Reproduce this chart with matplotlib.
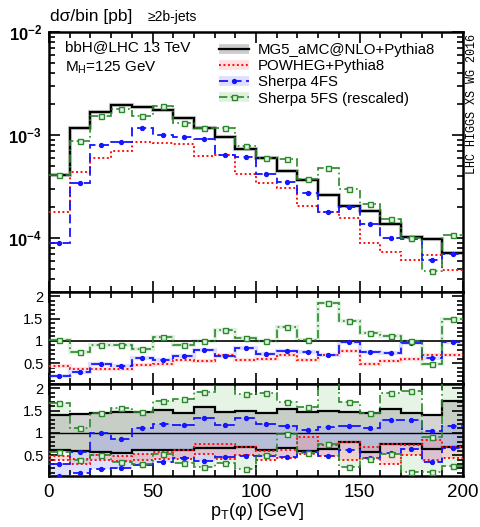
import numpy as np
import matplotlib
matplotlib.use("Agg")
import matplotlib.pyplot as plt
from matplotlib.ticker import MultipleLocator, LogLocator, FuncFormatter, NullFormatter
from matplotlib.lines import Line2D

plt.rcParams["font.family"] = ["Liberation Sans", "DejaVu Sans"]
plt.rcParams["mathtext.fontset"] = "custom"
plt.rcParams["mathtext.rm"] = "Liberation Sans"
plt.rcParams["mathtext.it"] = "Liberation Sans:italic"
plt.rcParams["mathtext.bf"] = "Liberation Sans:bold"

# pT(phi) binning, 10 GeV bins
edges = np.arange(0, 201, 10)
centers = 0.5 * (edges[:-1] + edges[1:])

# d sigma / bin [pb]
mg5 = [4.09e-4, 1.18e-3, 1.68e-3, 1.96e-3, 1.88e-3, 1.75e-3, 1.47e-3, 1.16e-3, 9.5e-4, 7.31e-4,
       5.94e-4, 4.47e-4, 3.63e-4, 2.61e-4, 2.06e-4, 1.83e-4, 1.37e-4, 1.02e-4, 9.85e-5, 7.2e-5]
powheg = [1.81e-4, 4.35e-4, 6.0e-4, 7.07e-4, 8.59e-4, 8.40e-4, 8.27e-4, 6.28e-4, 6.47e-4, 4.16e-4,
          3.46e-4, 3.03e-4, 2.04e-4, 1.80e-4, 1.57e-4, 8.98e-5, 7.40e-5, 6.14e-5, 6.81e-5, 4.87e-5]
sherpa4 = [9.0e-5, 3.44e-4, 7.94e-4, 8.55e-4, 1.177e-3, 9.93e-4, 9.63e-4, 9.2e-4, 6.35e-4, 6.16e-4,
           4.15e-4, 3.47e-4, 2.72e-4, 1.78e-4, 1.99e-4, 1.38e-4, 1.0e-4, 9.78e-5, 6.16e-5, 6.95e-5]
sherpa5 = [4.13e-4, 8.74e-4, 1.52e-3, 1.80e-3, 1.53e-3, 1.91e-3, 1.32e-3, 1.16e-3, 1.18e-3, 7.82e-4,
           5.94e-4, 5.85e-4, 3.74e-4, 4.81e-4, 2.99e-4, 2.15e-4, 1.53e-4, 1.01e-4, 4.78e-5, 1.07e-4]

# uncertainty bands, normalised to the MG5_aMC central value
mg5_up = [1.40, 1.42, 1.45, 1.46, 1.48, 1.51, 1.44, 1.59, 1.48, 1.50,
          1.44, 1.54, 1.46, 1.50, 1.48, 1.44, 1.54, 1.44, 1.41, 1.72]
mg5_dn = [0.61, 0.59, 0.58, 0.54, 0.61, 0.62, 0.62, 0.65, 0.65, 0.69,
          0.62, 0.65, 0.60, 0.63, 0.79, 0.58, 0.76, 0.74, 0.63, 0.68]
powheg_up = [0.47, 0.42, 0.50, 0.48, 0.52, 0.56, 0.62, 0.76, 0.76, 0.68,
             0.60, 0.62, 0.90, 0.72, 0.79, 0.68, 0.76, 0.72, 0.83, 0.68]
powheg_dn = [0.38, 0.30, 0.40, 0.36, 0.40, 0.41, 0.41, 0.52, 0.41, 0.50,
             0.40, 0.43, 0.52, 0.49, 0.40, 0.44, 0.29, 0.50, 0.40, 0.44]
sherpa4_up = [0.30, 0.57, 0.99, 0.87, 1.11, 1.21, 1.18, 1.33, 1.18, 1.33,
              1.20, 1.15, 1.06, 1.13, 1.15, 1.11, 1.28, 1.28, 1.04, 1.15]
sherpa4_dn = [0.02, 0.10, 0.18, 0.21, 0.28, 0.34, 0.43, 0.37, 0.45, 0.47,
              0.47, 0.45, 0.58, 0.48, 0.61, 0.43, 0.55, 0.63, 0.35, 0.67]
sherpa5_up = [1.67, 1.10, 1.44, 1.55, 1.48, 1.72, 1.76, 1.92, 2.30, 1.87,
              1.89, 1.70, 1.59, 2.70, 1.70, 1.45, 1.90, 1.94, 0.90, 2.30]
sherpa5_dn = [0.56, 0.38, 0.50, 0.35, 0.29, 0.53, 0.33, 0.24, 0.33, 0.18,
              0.51, 0.98, 0.55, 0.74, 0.23, 0.42, 0.53, 0.13, 0.12, 0.26]

labels = ["MG5_aMC@NLO+Pythia8", "POWHEG+Pythia8", "Sherpa 4FS", "Sherpa 5FS (rescaled)"]

styles = [
    dict(color="black", ls="-", lw=1.6, halo="#cccccc", fill="#a0a0a0", falpha=0.45, marker=None),
    dict(color="#ff1010", ls=(0, (1, 1.3)), lw=1.4, halo="#ffe0e0", fill="#ff8c8c", falpha=0.3, marker=None),
    dict(color="#1515ff", ls=(0, (5, 2.5)), lw=1.3, halo="#dedeff", fill="#9a9aff", falpha=0.3, marker="o"),
    dict(color="#2a8a2a", ls=(0, (5, 2, 1, 2)), lw=1.2, halo="#e0f0e0", fill="#b8e0b8", falpha=0.35, marker="s"),
]


def draw_series(ax, vals, st, halo=True):
    if halo:
        ax.stairs(vals, edges, baseline=None, color=st["halo"], lw=3.0, zorder=2)
    ax.stairs(vals, edges, baseline=None, color=st["color"], ls=st["ls"], lw=st["lw"], zorder=3)
    if st["marker"] == "o":
        ax.plot(centers, vals, ls="none", marker="o", ms=2.8, color=st["color"], zorder=4)
    elif st["marker"] == "s":
        ax.plot(centers, vals, ls="none", marker="s", ms=3.6, mec=st["color"], mfc="#e4f2e4",
                mew=1.0, zorder=4)


def style_axis(ax):
    ax.set_xlim(0, 200)
    ax.xaxis.set_major_locator(MultipleLocator(50))
    ax.xaxis.set_minor_locator(MultipleLocator(10))
    ax.tick_params(which="both", direction="in", top=True, right=True, width=1.2)
    ax.tick_params(which="major", length=8)
    ax.tick_params(which="minor", length=4)
    for s in ax.spines.values():
        s.set_linewidth(1.8)


def ratio_axis(ax):
    style_axis(ax)
    ax.set_ylim(0.03, 2.1)
    ax.yaxis.set_major_locator(MultipleLocator(0.5))
    ax.yaxis.set_minor_locator(MultipleLocator(0.1))
    ax.yaxis.set_major_formatter(FuncFormatter(lambda v, p: "" if v <= 0 else ("%g" % v)))
    ax.tick_params(axis="y", labelsize=10.5, pad=4)


fig = plt.figure(figsize=(4.81, 5.27), dpi=100)
left, width = 49 / 481, 414 / 481
ax = fig.add_axes([left, 235 / 527, width, 260 / 527])
r1 = fig.add_axes([left, 143 / 527, width, 92 / 527])
r2 = fig.add_axes([left, 51 / 527, width, 92 / 527])

# main panel
series = [mg5, powheg, sherpa4, sherpa5]
for vals, st in zip(series, styles):
    draw_series(ax, vals, st, halo=(st["color"] == "black"))
ax.set_yscale("log")
ax.set_ylim(3e-5, 1e-2)
style_axis(ax)
ax.yaxis.set_major_locator(LogLocator(base=10))
ax.yaxis.set_minor_locator(LogLocator(base=10, subs=np.arange(2, 10)))
ax.yaxis.set_minor_formatter(NullFormatter())
ax.yaxis.set_major_formatter(FuncFormatter(lambda v, p: r"$\mathbf{10^{%d}}$" % round(np.log10(v))))
ax.tick_params(axis="y", labelsize=12, pad=5)
ax.tick_params(axis="x", labelbottom=False)

handles = []
for st in styles:
    band = Line2D([], [], color=st["halo"], lw=7, solid_capstyle="butt")
    if st["marker"] == "o":
        line = Line2D([], [], color=st["color"], ls=st["ls"], lw=st["lw"], marker="o", ms=2.8)
    elif st["marker"] == "s":
        line = Line2D([], [], color=st["color"], ls=st["ls"], lw=st["lw"], marker="s", ms=3.6,
                      mec=st["color"], mfc="#e4f2e4")
    else:
        line = Line2D([], [], color=st["color"], ls=st["ls"], lw=st["lw"])
    handles.append((band, line))
ax.legend(handles, labels, loc="upper left", bbox_to_anchor=(0.41, 0.958), frameon=False,
          fontsize=10.8, handlelength=2.0, handletextpad=0.6, labelspacing=0.15,
          borderpad=0, borderaxespad=0)

# ratio to MG5_aMC
r1.axhline(1.0, color="black", lw=1.2, zorder=3)
for vals, st in zip(series[1:], styles[1:]):
    ratio = np.array(vals) / np.array(mg5)
    draw_series(r1, ratio, st)
ratio_axis(r1)
r1.tick_params(axis="x", labelbottom=False)

# uncertainty bands relative to MG5_aMC
bands = [(mg5_up, mg5_dn), (powheg_up, powheg_dn), (sherpa4_up, sherpa4_dn), (sherpa5_up, sherpa5_dn)]
for idx in [3, 0, 2, 1]:
    up, dn = bands[idx]
    st = styles[idx]
    r2.stairs(up, edges, baseline=dn, fill=True, color=st["fill"], alpha=st["falpha"], lw=0, zorder=1)
r2.axhline(1.0, color="black", lw=1.0, zorder=3)
for (up, dn), st in zip(bands, styles):
    draw_series(r2, up, st, halo=False)
    draw_series(r2, dn, st, halo=False)
ratio_axis(r2)
r2.tick_params(axis="x", labelsize=13.5, pad=6)

# annotations
fig.text(50 / 481, 1 - 17 / 527, "dσ/bin [pb]", fontsize=12.5, va="center", ha="left")
fig.text(148 / 481, 1 - 17 / 527, "≥2b-jets", fontsize=10, va="center", ha="left")
fig.text(65 / 481, 1 - 47 / 527, "bbH@LHC 13 TeV", fontsize=11, va="center", ha="left")
fig.text(65 / 481, 1 - 68 / 527, r"M$_\mathrm{H}$=125 GeV", fontsize=11, va="center", ha="left")
fig.text(472 / 481, 1 - 104 / 527, "LHC HIGGS XS WG 2016", fontsize=8.5, family="Liberation Mono",
         rotation=90, va="center", ha="center")
fig.text(257 / 481, 1 - 512 / 527, r"p$_\mathrm{T}$(φ) [GeV]", fontsize=13, va="center", ha="center")

fig.savefig("out.png", dpi=100)
